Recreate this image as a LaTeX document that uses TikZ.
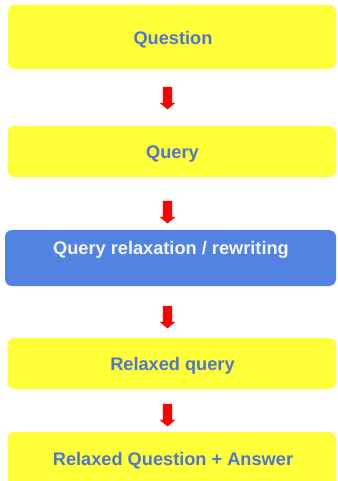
\documentclass[tikz,border=0pt]{standalone}
\usepackage{fontspec}
\setmainfont{Liberation Sans}
\definecolor{boxyellow}{HTML}{FFFF38}
\definecolor{boxblue}{HTML}{5283E2}
\definecolor{txtblue}{HTML}{4F76CC}
\definecolor{txtwhite}{HTML}{F4F6FF}
\definecolor{arrowred}{HTML}{FF0000}
\tikzset{
  ybox/.style={fill=boxyellow, draw=none, rounded corners=7pt},
  bbox/.style={fill=boxblue, draw=none, rounded corners=7pt},
  ytext/.style={text=txtblue, font=\fontsize{18.2}{20}\selectfont\bfseries, inner sep=0pt},
  btext/.style={text=txtwhite, font=\fontsize{18.2}{20}\selectfont\bfseries, inner sep=0pt},
  redarrow/.style={fill=arrowred, draw=none}
}
\newcommand{\blockarrow}[1]{%
  \fill[redarrow] (162.8,#1) -- (172.2,#1) -- (172.2,#1+16) -- (175.4,#1+16) -- (167.5,#1+22.6) -- (159.6,#1+16) -- (162.8,#1+16) -- cycle;}
\begin{document}
\begin{tikzpicture}[x=1pt,y=-1pt]
\useasboundingbox (0,0) rectangle (337,481);
\clip (0,0) rectangle (337,481);
\fill[ybox] (8,5) rectangle (336,69);
\node[ytext] (q) at (173,40) {Question};
\fill[ybox] (7.5,126) rectangle (336,177);
\node[ytext] (qu) at (172.5,154) {Query};
\fill[bbox] (5,230) rectangle (336,286);
\node[btext] (qr) at (171,250) {Query relaxation / rewriting};
\fill[ybox] (7.5,338) rectangle (336,389);
\node[ytext] (rq) at (172.5,366) {Relaxed query};
\fill[ybox] (7.5,432) rectangle (336,495);
\node[ytext] (ra) at (173,461) {Relaxed Question + Answer};
\blockarrow{86.8}
\blockarrow{200.8}
\blockarrow{305.8}
\blockarrow{403.8}
\end{tikzpicture}
\end{document}
